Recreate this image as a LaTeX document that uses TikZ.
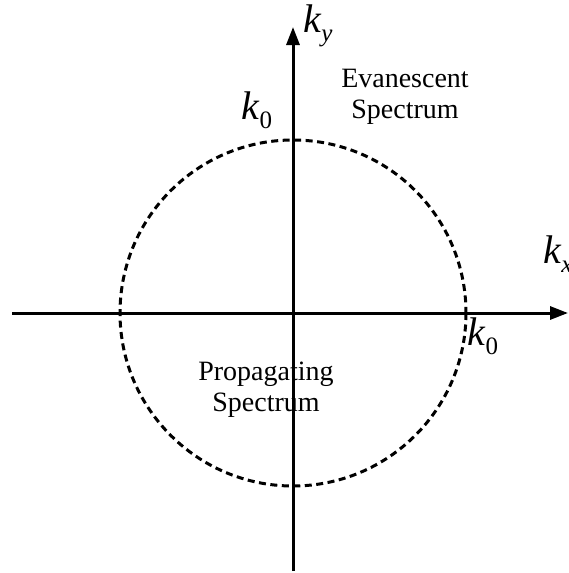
\documentclass[tikz,border=0pt]{standalone}
\usepackage{fontspec}
\setmainfont{Liberation Serif}
\usetikzlibrary{arrows.meta}
\newcommand\kvar[2]{k\raisebox{-0.22em}{\fontsize{25}{25}\selectfont #2#1}}
\begin{document}
\begin{tikzpicture}[x=1pt,y=-1pt,
  axis/.style={line width=3pt,-{Triangle[length=18pt,width=13pt]}},
  circ/.style={line width=3pt,dash pattern=on 7pt off 4.5pt},
  lbl/.style={font=\fontsize{28}{31}\selectfont,align=center,inner sep=0pt},
  var/.style={font=\fontsize{40}{40}\selectfont\itshape,inner sep=0pt}]
\useasboundingbox (0,0) rectangle (568,573);
\coordinate (O) at (293,313);
\coordinate (xs) at (12,313);
\coordinate (xe) at (568,313);
\coordinate (ys) at (293,571);
\coordinate (ye) at (293,27);
\draw[circ] (O) circle[radius=173];
\node[lbl] (ev) at (405,97) {Evanescent\\Spectrum};
\node[lbl] (pr) at (266,390) {Propagating\\Spectrum};
\node[var] (ky) at (318,26) {\kvar{y}{}};
\node[var] (k0a) at (257,110) {\kvar{0}{\upshape}};
\node[var] (kx) at (558,254) {\kvar{x}{}};
\node[var] (k0b) at (483,336) {\kvar{0}{\upshape}};
\draw[axis] (xs) -- (xe);
\draw[axis] (ys) -- (ye);
\end{tikzpicture}
\end{document}
